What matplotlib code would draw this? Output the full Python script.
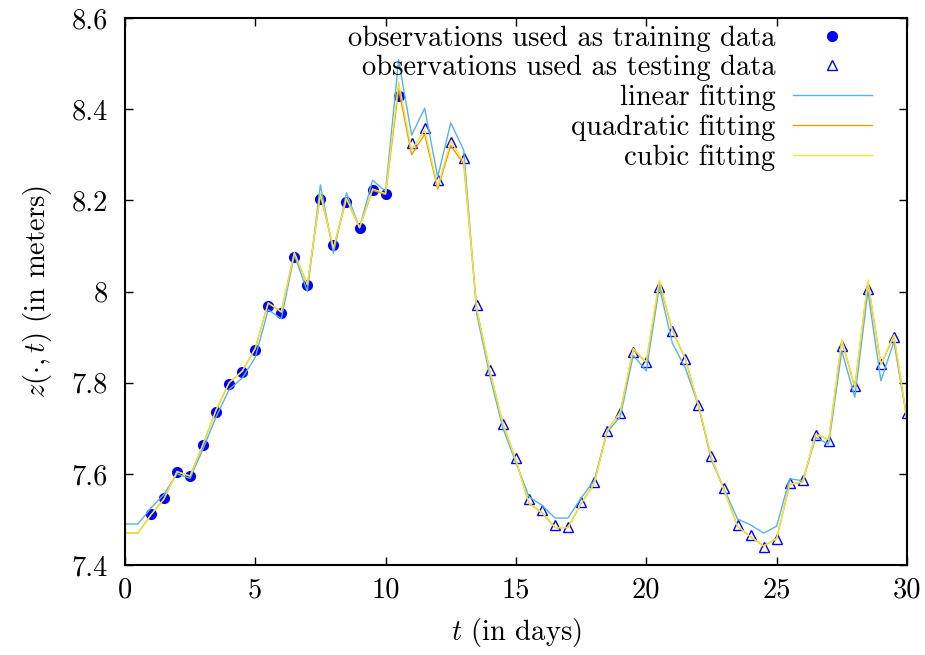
import numpy as np
import matplotlib
matplotlib.use("Agg")
import matplotlib.pyplot as plt

plt.rcParams['font.family'] = 'serif'
plt.rcParams['font.serif'] = ['cmr10']
plt.rcParams['mathtext.fontset'] = 'cm'
plt.rcParams['axes.formatter.use_mathtext'] = True
plt.rcParams['font.size'] = 20.5

# observations
t_train = [1, 1.5, 2, 2.5, 3, 3.5, 4, 4.5, 5, 5.5, 6, 6.5, 7, 7.5, 8, 8.5, 9, 9.5, 10, 10.5]
z_train = [7.512, 7.547, 7.604, 7.595, 7.663, 7.736, 7.797, 7.823, 7.872, 7.968,
           7.953, 8.076, 8.014, 8.203, 8.102, 8.196, 8.139, 8.223, 8.214, 8.429]

t_test = [11, 11.5, 12, 12.5, 13, 13.5, 14, 14.5, 15, 15.5, 16, 16.5, 17, 17.5, 18,
          18.5, 19, 19.5, 20, 20.5, 21, 21.5, 22, 22.5, 23, 23.5, 24, 24.5, 25, 25.5,
          26, 26.5, 27, 27.5, 28, 28.5, 29, 29.5, 30]
z_test = [8.326, 8.359, 8.245, 8.328, 8.293, 7.970, 7.828, 7.709, 7.635, 7.545,
          7.521, 7.488, 7.483, 7.538, 7.582, 7.694, 7.733, 7.867, 7.845, 8.010,
          7.913, 7.852, 7.751, 7.639, 7.569, 7.488, 7.466, 7.439, 7.457, 7.580,
          7.586, 7.685, 7.672, 7.880, 7.793, 8.005, 7.841, 7.900, 7.733]

# fitted curves, every half day
t_fit = np.arange(0, 30.5, 0.5)
z_linear = [7.490, 7.490, 7.525, 7.555, 7.600, 7.590, 7.655, 7.725, 7.785, 7.810,
            7.855, 7.960, 7.940, 8.080, 8.000, 8.234, 8.084, 8.216, 8.140, 8.244,
            8.220, 8.508, 8.343, 8.402, 8.251, 8.370, 8.310, 7.950, 7.815, 7.700,
            7.625, 7.550, 7.531, 7.503, 7.503, 7.547, 7.585, 7.692, 7.725, 7.860,
            7.826, 8.010, 7.887, 7.832, 7.750, 7.630, 7.565, 7.501, 7.488, 7.470,
            7.485, 7.589, 7.585, 7.680, 7.665, 7.870, 7.768, 8.000, 7.804, 7.890,
            7.720]
z_quadratic = [7.470, 7.470, 7.510, 7.545, 7.605, 7.595, 7.665, 7.740, 7.800, 7.825,
               7.875, 7.975, 7.955, 8.085, 8.015, 8.212, 8.095, 8.203, 8.140, 8.222,
               8.213, 8.445, 8.300, 8.345, 8.225, 8.320, 8.280, 7.960, 7.825, 7.710,
               7.630, 7.535, 7.515, 7.482, 7.482, 7.535, 7.578, 7.695, 7.735, 7.872,
               7.845, 8.020, 7.915, 7.852, 7.750, 7.635, 7.562, 7.485, 7.462, 7.442,
               7.458, 7.577, 7.582, 7.687, 7.675, 7.892, 7.790, 8.020, 7.840, 7.902,
               7.720]
z_cubic = [7.470, 7.470, 7.510, 7.545, 7.605, 7.595, 7.665, 7.740, 7.800, 7.825,
           7.875, 7.975, 7.955, 8.085, 8.015, 8.215, 8.095, 8.205, 8.140, 8.225,
           8.215, 8.460, 8.310, 8.355, 8.230, 8.330, 8.285, 7.960, 7.825, 7.710,
           7.630, 7.535, 7.515, 7.482, 7.482, 7.535, 7.578, 7.695, 7.735, 7.875,
           7.845, 8.025, 7.915, 7.852, 7.750, 7.635, 7.562, 7.485, 7.462, 7.442,
           7.458, 7.577, 7.582, 7.687, 7.675, 7.895, 7.790, 8.025, 7.840, 7.905,
           7.720]

x_ticks = [0, 5, 10, 15, 20, 25, 30]
y_ticks = [7.4, 7.6, 7.8, 8.0, 8.2, 8.4, 8.6]
y_ticklabels = ['7.4', '7.6', '7.8', '8', '8.2', '8.4', '8.6']

fig = plt.figure(figsize=(9.25, 6.55), dpi=100)
ax = fig.add_axes([0.135, 0.1374, 0.8455, 0.8351])

ax.plot(t_train, z_train, 'o', color='#0000ff', markersize=7, linestyle='none',
        label='observations used as training data')
ax.plot(t_test, z_test, '^', color='#0000ff', markerfacecolor='none', markersize=7,
        markeredgewidth=1.0, linestyle='none', label='observations used as testing data')
ax.plot(t_fit, z_linear, color='#56b4e9', linewidth=1.0, label='linear fitting')
ax.plot(t_fit, z_quadratic, color='#e69f00', linewidth=1.0, label='quadratic fitting')
ax.plot(t_fit, z_cubic, color='#f0e442', linewidth=1.0, label='cubic fitting')

ax.set_xlim(0, 30)
ax.set_ylim(7.4, 8.6)
ax.set_xticks(x_ticks)
ax.set_xticklabels([str(v) for v in x_ticks])
ax.set_yticks(y_ticks)
ax.set_yticklabels(y_ticklabels)
ax.tick_params(direction='in', length=6, width=1, top=True, right=True)
ax.tick_params(axis='x', pad=9)
ax.tick_params(axis='y', pad=12)
for s in ax.spines.values():
    s.set_linewidth(1.5)

ax.set_xlabel(r'$t$ (in days)', labelpad=9)
ax.set_ylabel(r'$z(\cdot,t)$ (in meters)', labelpad=13)

ax.legend(loc='upper right', bbox_to_anchor=(0.962, 0.997), frameon=False,
          markerfirst=False, handlelength=2.75, handletextpad=0.63,
          labelspacing=0.12, borderaxespad=0, borderpad=0.2, numpoints=1)

fig.savefig('out.png', dpi=100)
